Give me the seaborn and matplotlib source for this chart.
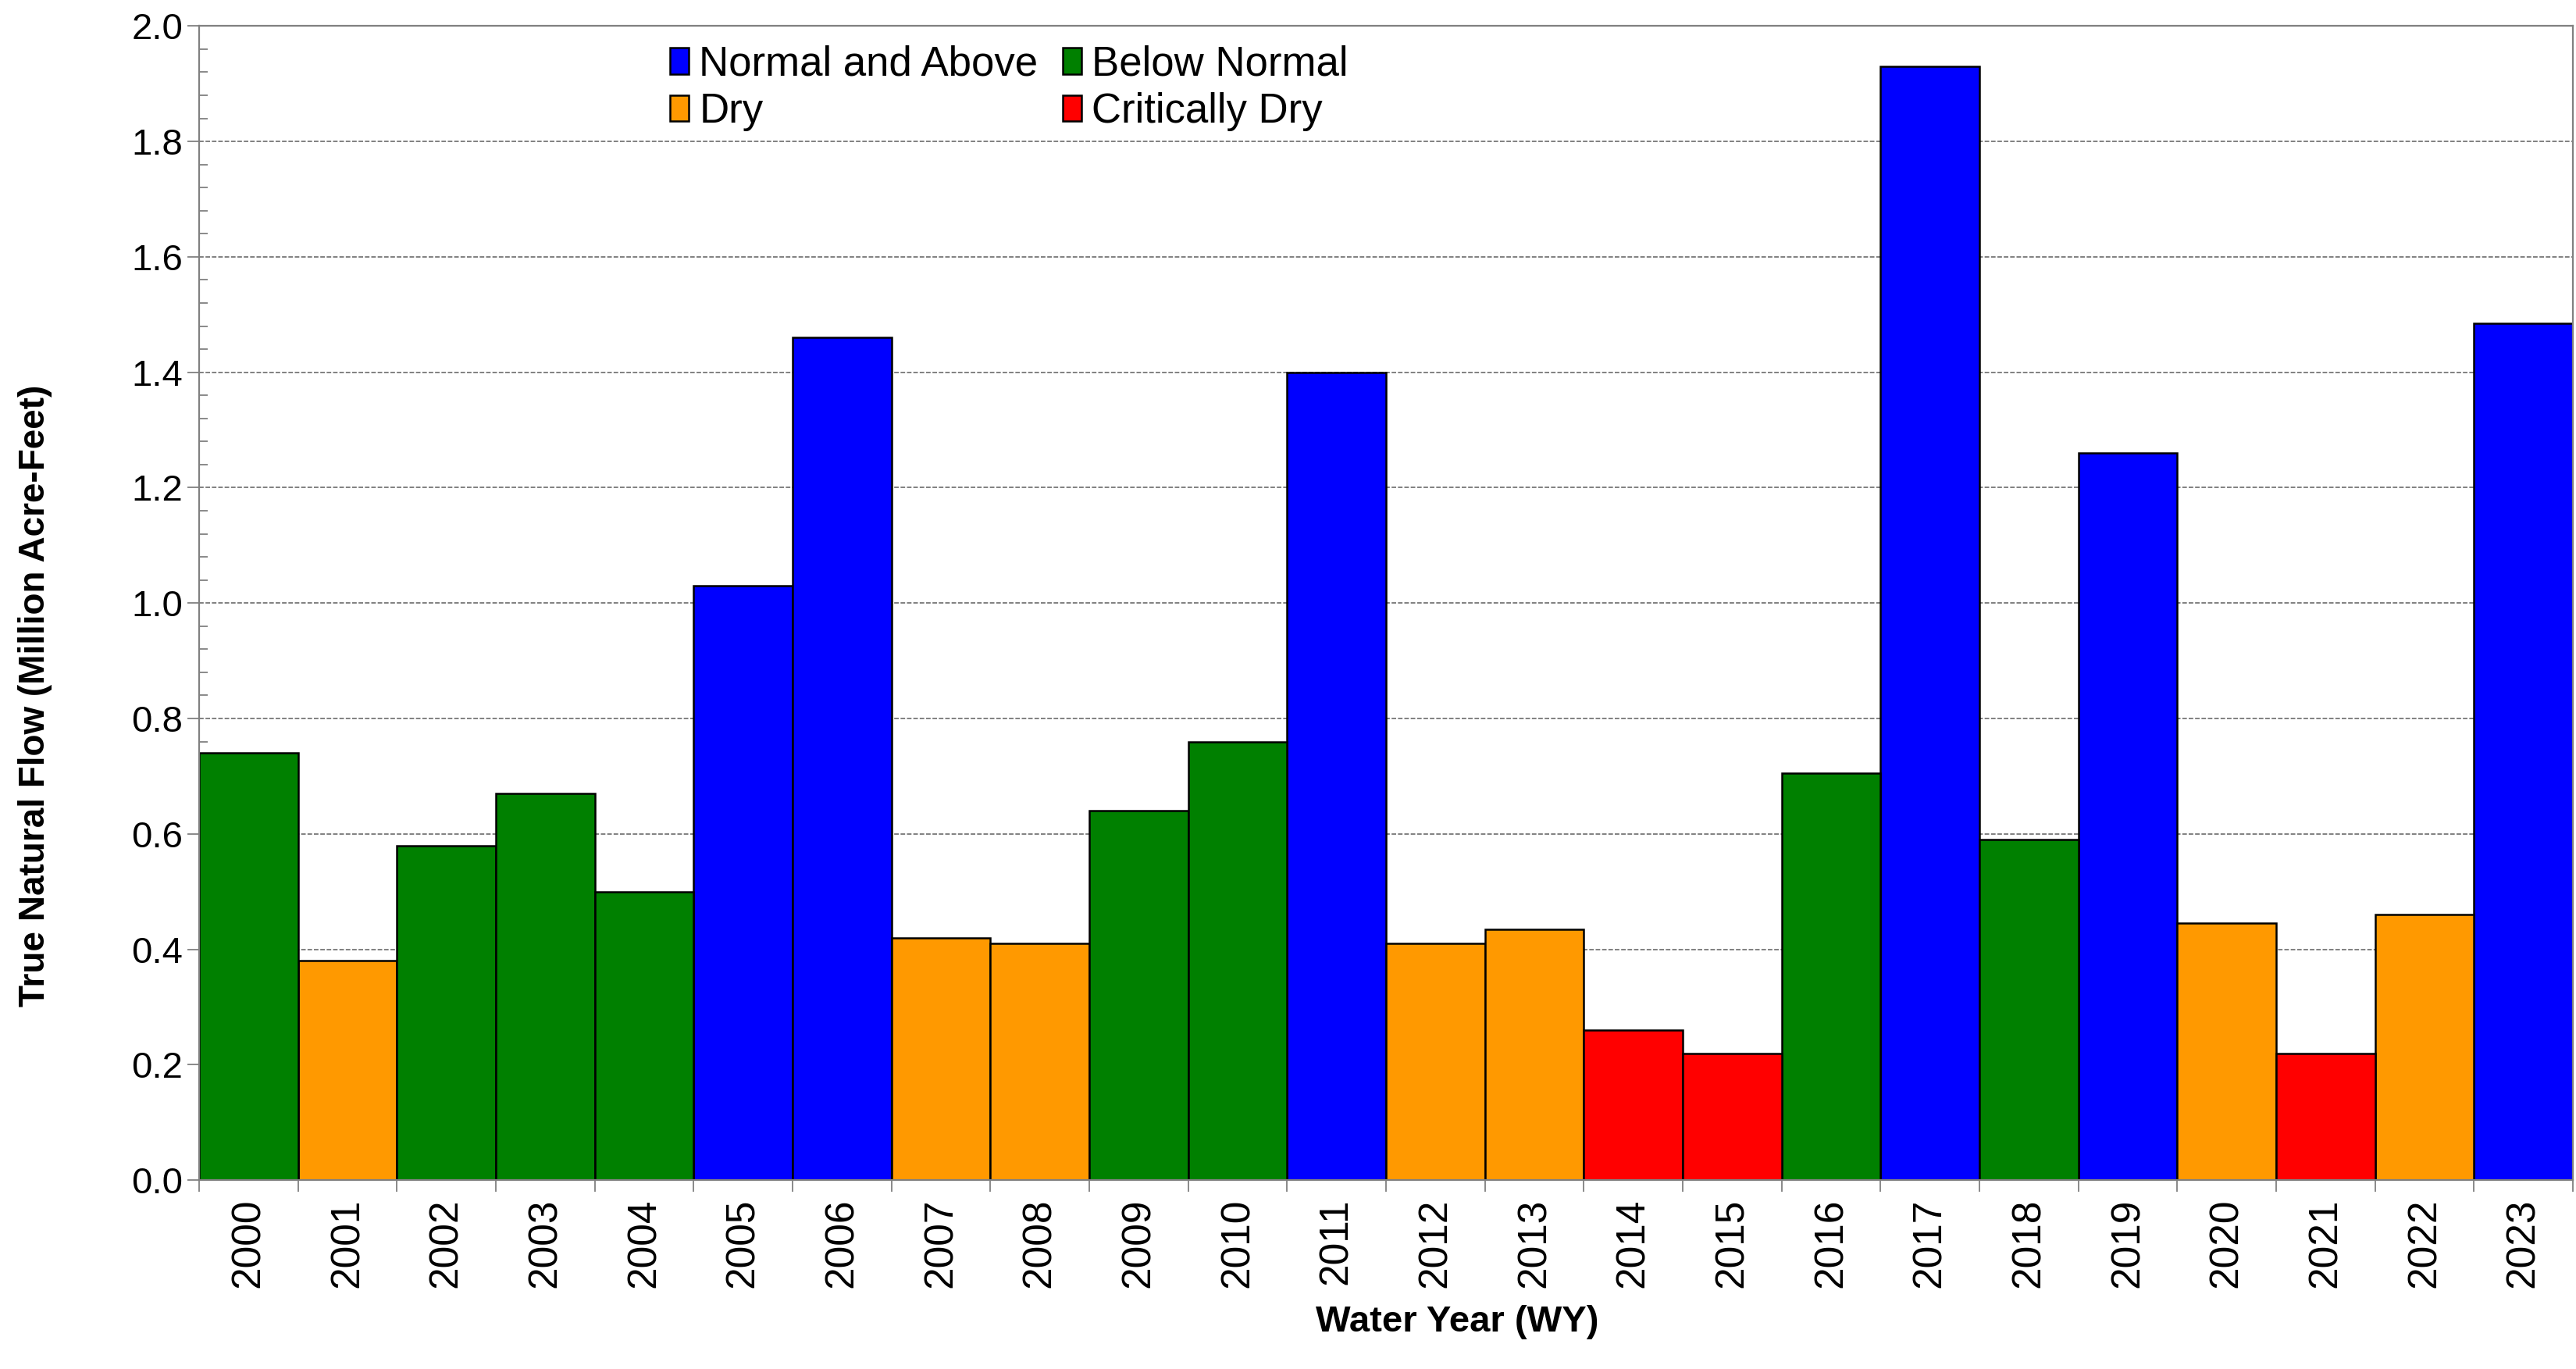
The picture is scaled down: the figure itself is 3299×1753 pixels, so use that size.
import numpy as np
import pandas as pd
import matplotlib
matplotlib.use("Agg")
import matplotlib.pyplot as plt
from matplotlib.ticker import MultipleLocator, FixedLocator, FormatStrFormatter
import seaborn as sns

# ─── Data ─────────────────────────────────────────────────────────────────────
YEARS = [str(y) for y in range(2000, 2024)]
FLOW = [0.74, 0.38, 0.58, 0.67, 0.50, 1.03, 1.46, 0.42, 0.41, 0.64, 0.76, 1.40,
        0.41, 0.435, 0.26, 0.22, 0.705, 1.93, 0.59, 1.26, 0.445, 0.22, 0.46, 1.485]
YEAR_TYPE = ["BN", "D", "BN", "BN", "BN", "N", "N", "D", "D", "BN", "BN", "N",
             "D", "D", "C", "C", "BN", "N", "BN", "N", "D", "C", "D", "N"]

TYPE_LABELS = {
    "N":  "Normal and Above",
    "BN": "Below Normal",
    "D":  "Dry",
    "C":  "Critically Dry",
}
PALETTE = {
    "Normal and Above": "#0000FF",
    "Below Normal":     "#008000",
    "Dry":              "#FF9900",
    "Critically Dry":   "#FF0000",
}
# legend fills column-wise with ncol=2
LEGEND_ORDER = ["Normal and Above", "Dry", "Below Normal", "Critically Dry"]

GRAY = "#808080"

df = pd.DataFrame({
    "year": YEARS,
    "flow": FLOW,
    "type": [TYPE_LABELS[t] for t in YEAR_TYPE],
})

# ─── Plot ─────────────────────────────────────────────────────────────────────
sns.set_style("white")
plt.rcParams["font.family"] = ["Liberation Sans", "DejaVu Sans"]
plt.rcParams["text.color"] = "black"
plt.rcParams["axes.labelcolor"] = "black"

fig = plt.figure(figsize=(32.99, 17.53), dpi=100)
ax = fig.add_axes([0.0773, 0.138, 0.9215, 0.843])

sns.barplot(
    data=df, x="year", y="flow", hue="type",
    order=YEARS, hue_order=LEGEND_ORDER, palette=PALETTE,
    dodge=False, width=1.0, saturation=1.0,
    edgecolor="black", linewidth=1.8, ax=ax,
)

ax.set_xlim(-0.5, len(YEARS) - 0.5)
ax.set_ylim(0, 2.0)

# y axis: majors every 0.2 outward, minors every 0.04 inward
ax.yaxis.set_major_locator(MultipleLocator(0.2))
ax.yaxis.set_minor_locator(MultipleLocator(0.04))
ax.yaxis.set_major_formatter(FormatStrFormatter("%.1f"))
ax.tick_params(axis="y", which="major", direction="out", length=11, width=1.3,
               color=GRAY, labelsize=34, labelcolor="black", pad=4, left=True)
ax.tick_params(axis="y", which="minor", direction="in", length=8, width=1.3,
               color=GRAY, left=True)

# x axis: labels at bar centres, boundary ticks outward
ax.xaxis.set_minor_locator(FixedLocator(np.arange(-0.5, len(YEARS), 1.0)))
ax.tick_params(axis="x", which="major", direction="in", length=8, width=1.3,
               color=GRAY, labelsize=37, labelcolor="black", pad=17,
               labelrotation=90, bottom=True)
ax.tick_params(axis="x", which="minor", direction="out", length=11, width=1.3,
               color=GRAY, bottom=True)

ax.yaxis.grid(True, which="major", color=GRAY, linestyle=(0, (3, 1.2)), lw=1.4)
ax.xaxis.grid(False)
ax.set_axisbelow(True)

for s in ax.spines.values():
    s.set_color(GRAY)
    s.set_linewidth(1.6)

ax.set_xlabel("Water Year (WY)", fontsize=34, fontweight="bold")
ax.xaxis.set_label_coords(0.53, -0.108)
ax.set_ylabel("True Natural Flow (Million Acre-Feet)", fontsize=33,
              fontweight="bold")
ax.yaxis.set_label_coords(-0.062, 0.42)

handles, labels = ax.get_legend_handles_labels()
lookup = dict(zip(labels, handles))
ax.legend(
    [lookup[l] for l in LEGEND_ORDER], LEGEND_ORDER,
    ncol=2, loc="upper left", bbox_to_anchor=(0.188, 1.005),
    frameon=False, fontsize=38,
    handlelength=0.45, handleheight=0.6, handletextpad=0.25,
    columnspacing=0.6, labelspacing=0.2, borderaxespad=0.2,
)

fig.savefig("out.png", dpi=100)
